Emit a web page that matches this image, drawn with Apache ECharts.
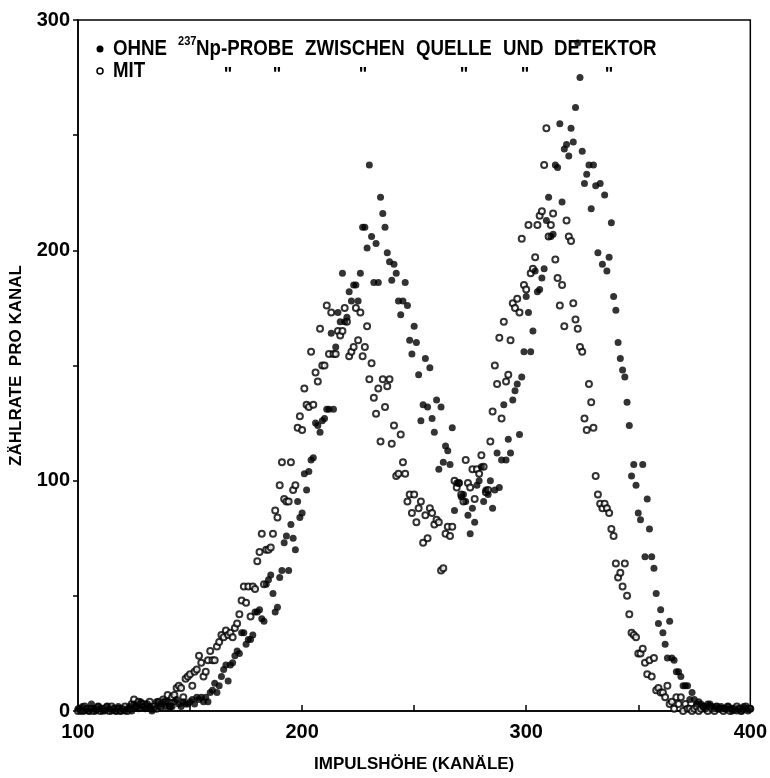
<!DOCTYPE html>
<html>
<head>
<meta charset="utf-8">
<script src="https://cdn.jsdelivr.net/npm/echarts@6/dist/echarts.min.js"></script>
<style>
  html, body { margin: 0; padding: 0; background: #fff; }
  #chart { width: 770px; height: 778px; }
</style>
</head>
<body>
<div id="chart"></div>
<script>
// Kanal 100 ... 400, ein Wert pro Kanal
var firstChannel = 100;

// ohne 237Np-Probe (gefuellte Punkte)
var ohne = [
  1,0,2,0,1,0,3,1,0,2,
  1,0,0,2,1,0,1,0,2,0,
  1,0,1,2,0,3,2,1,4,2,
  1,3,2,0,1,4,2,3,4,2,
  4,2,2,4,5,3,2,4,3,3,
  4,5,3,6,5,6,4,6,4,8,
  9,12,8,11,15,18,20,13,20,21,
  24,26,25,34,34,29,31,31,33,43,
  43,44,40,39,55,57,59,51,43,45,
  58,61,73,76,61,81,75,70,91,84,
  86,103,96,104,109,110,125,124,121,126,
  127,131,131,164,131,158,173,169,190,169,
  171,182,178,185,185,178,190,210,210,201,
  237,206,186,203,186,223,216,210,199,195,
  187,194,190,178,172,178,186,176,161,155,
  167,160,146,126,133,153,132,149,127,121,
  135,105,132,108,115,113,107,123,87,99,
  99,93,94,91,85,77,88,82,98,100,
  106,91,96,94,100,88,96,112,97,109,
  133,109,118,112,135,139,142,120,145,156,
  180,173,156,165,191,182,183,188,192,213,
  223,206,207,237,236,255,221,244,246,241,
  253,247,262,290,275,243,229,233,237,218,
  237,228,199,229,194,224,191,197,212,180,
  174,160,153,148,145,134,124,102,107,98,
  86,83,107,67,92,79,67,62,51,38,
  44,34,29,23,39,23,22,17,17,15,
  11,11,11,5,8,5,3,4,3,2,
  1,3,3,2,1,2,1,2,1,1,
  2,1,0,1,0,1,0,2,1,0,
  1
];

// mit 237Np-Probe (offene Punkte)
var mit = [
  0,1,0,2,1,0,1,0,1,2,
  0,1,1,2,0,2,1,0,1,0,
  1,2,0,1,3,5,2,4,3,3,
  2,3,4,1,2,1,4,2,5,4,
  7,2,6,7,10,11,10,6,14,15,
  16,11,17,18,24,21,15,17,22,26,
  22,22,28,30,33,32,35,33,34,32,
  36,38,42,48,54,47,54,41,54,53,
  65,69,77,55,70,70,71,77,87,84,
  98,108,92,91,91,108,96,98,123,128,
  122,140,133,132,156,133,147,143,166,150,
  150,176,155,173,155,155,165,163,165,175,
  169,154,156,158,175,161,173,154,158,167,
  144,151,136,129,140,117,144,132,141,144,
  116,124,102,103,120,108,103,91,94,86,
  94,82,88,91,73,85,75,88,86,81,
  83,82,61,62,77,80,76,80,100,97,
  99,94,91,109,99,97,105,92,105,103,
  111,106,95,96,117,130,150,142,162,127,
  169,143,146,161,177,175,179,173,205,185,
  183,211,190,192,197,211,215,217,237,253,
  206,211,216,196,188,176,185,167,213,206,
  204,177,170,166,158,156,127,122,142,134,
  123,102,94,90,88,90,88,86,79,76,
  64,58,60,54,64,50,42,34,33,32,
  25,25,27,21,16,22,15,23,9,10,
  8,8,6,11,3,4,1,6,3,6,
  0,3,1,1,0,1,2,0,1,2,
  1,0,2,1,0,2,1,1,0,1,
  2,0,1,1,2,1,0,1,2,1,
  1
];

var xTickLabels = [100, 200, 300, 400];
var yTickLabels = [0, 100, 200, 300];
var legendWords = ['OHNE', 'Np-PROBE', 'ZWISCHEN', 'QUELLE', 'UND', 'DETEKTOR'];
var legendWordX = [113, 196, 305, 416, 503, 554];
var dittoX = [228, 277, 363, 464, 525, 609];

function toPairs(arr) {
  return arr.map(function (v, i) { return [firstChannel + i, v]; });
}

var font = '"Liberation Sans", Arial, sans-serif';
var legendFont = 'bold 22px ' + font;
var narrow = 0.85;   // schmale Schrift nachahmen
var row1 = 49, row2 = 71;

var graphics = [
  { type: 'circle', shape: { cx: 100, cy: row1, r: 3.5 }, style: { fill: '#000' } },
  { type: 'circle', shape: { cx: 100, cy: row2, r: 3 }, style: { fill: '#fff', stroke: '#000', lineWidth: 1.5 } },
  { type: 'text', x: 113, y: row2, scaleX: narrow,
    style: { text: 'MIT', font: legendFont, fill: '#000', verticalAlign: 'middle' } },
  { type: 'text', x: 178, y: row1 - 8, scaleX: narrow,
    style: { text: '237', font: 'bold 13px ' + font, fill: '#000', verticalAlign: 'middle' } }
];
legendWords.forEach(function (w, i) {
  graphics.push({ type: 'text', x: legendWordX[i], y: row1, scaleX: narrow,
    style: { text: w, font: legendFont, fill: '#000', verticalAlign: 'middle' } });
});
dittoX.forEach(function (x) {
  graphics.push({ type: 'text', x: x, y: row2 + 4,
    style: { text: '"', font: 'bold 18px ' + font, fill: '#000', align: 'center', verticalAlign: 'middle' } });
});

var chart = echarts.init(document.getElementById('chart'));
chart.setOption({
  animation: false,
  backgroundColor: '#fff',
  grid: { left: 77, right: 15, top: 20, bottom: 56, show: true, borderColor: '#000', borderWidth: 1.5 },
  xAxis: {
    type: 'value', min: 100, max: 400, interval: 50,
    name: 'IMPULSHÖHE (KANÄLE)', nameLocation: 'middle', nameGap: 45,
    nameTextStyle: { fontFamily: font, fontSize: 17, fontWeight: 'bold', color: '#000' },
    axisLine: { lineStyle: { color: '#000', width: 1.5 } },
    axisTick: { inside: true, length: 6, lineStyle: { color: '#000', width: 1.5 } },
    axisLabel: {
      margin: 11, fontFamily: font, fontSize: 20, fontWeight: 'bold', color: '#000',
      formatter: function (v) { return xTickLabels.indexOf(v) >= 0 ? String(v) : ''; }
    },
    splitLine: { show: false }
  },
  yAxis: {
    type: 'value', min: 0, max: 300, interval: 50,
    name: 'ZÄHLRATE  PRO KANAL', nameLocation: 'middle', nameGap: 53,
    nameTextStyle: { fontFamily: font, fontSize: 17, fontWeight: 'bold', color: '#000' },
    axisLine: { show: true, lineStyle: { color: '#000', width: 1.5 } },
    axisTick: { show: true, length: 5, lineStyle: { color: '#000', width: 1.5 } },
    axisLabel: {
      margin: 8, fontFamily: font, fontSize: 20, fontWeight: 'bold', color: '#000',
      formatter: function (v) { return yTickLabels.indexOf(v) >= 0 ? String(v) : ''; }
    },
    splitLine: { show: false }
  },
  graphic: graphics,
  series: [
    {
      name: 'MIT', type: 'scatter', data: toPairs(mit),
      symbol: 'emptyCircle', symbolSize: 6,
      itemStyle: { color: '#000', borderColor: '#000', borderWidth: 1.6 }
    },
    {
      name: 'OHNE', type: 'scatter', data: toPairs(ohne),
      symbol: 'circle', symbolSize: 7,
      itemStyle: { color: '#000' }
    }
  ]
});
</script>
</body>
</html>
